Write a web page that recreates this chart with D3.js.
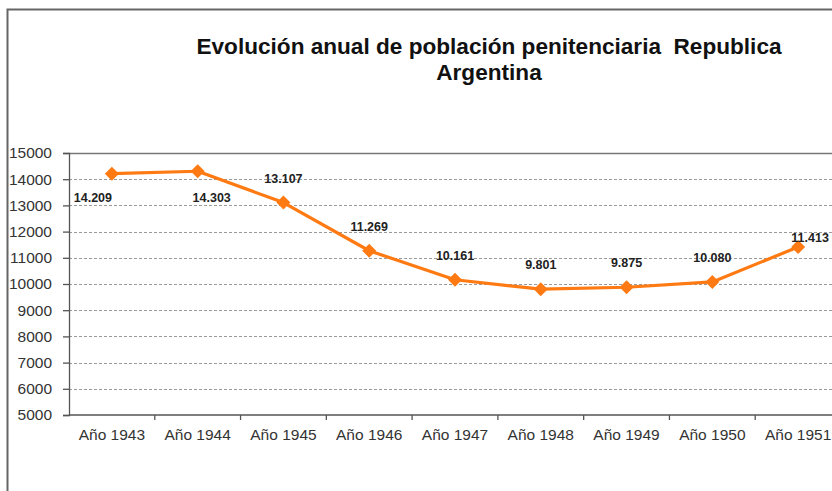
<!DOCTYPE html>
<meta charset="utf-8">
<script src="https://cdn.jsdelivr.net/npm/d3@7/dist/d3.min.js"></script>
<style>
body { margin: 0; background: #fff; }
text { font-family: Arial, "Liberation Sans", sans-serif; }
.grid line { stroke: #9a9a9a; stroke-width: 1px; stroke-dasharray: 3,2; }
.axis path, .axis line { stroke: #555; stroke-width: 1.3px; }
.axis text { fill: #333; font-size: 15.5px; }
.title { font-size: 22.6px; font-weight: bold; fill: #111; }
.lbl { font-size: 12.5px; font-weight: bold; fill: #222; }
</style>
<body>
<script>

// chart data
var years = ["Año 1943", "Año 1944", "Año 1945", "Año 1946", "Año 1947",
             "Año 1948", "Año 1949", "Año 1950", "Año 1951"];
var poblacion = [14209, 14303, 13107, 11269, 10161, 9801, 9875, 10080, 11413];
var valueLabels = ["14.209", "14.303", "13.107", "11.269", "10.161",
                   "9.801", "9.875", "10.080", "11.413"];
var yTicks = [5000, 6000, 7000, 8000, 9000, 10000, 11000, 12000, 13000, 14000, 15000];

// where excel put each data label, relative to its point
var labelNudge = [[-19, 28], [14, 31], [0, -20], [0, -20], [0, -20],
                  [0, -20], [0, -20], [0, -20], [12, -5]];

var width = 832,
    height = 491;

var svg = d3.select("body").append("svg")
    .attr("width", width)
    .attr("height", height);

// outer chart frame (left + top only, rest is cropped)
svg.append("path")
    .attr("d", "M7.5," + height + "V9.5H" + width)
    .attr("fill", "none")
    .attr("stroke", "#666")
    .attr("stroke-width", 2);

// title keeps the double space of the original
svg.append("text")
    .attr("class", "title")
    .attr("x", 489).attr("y", 54)
    .attr("text-anchor", "middle")
    .text("Evolución anual de población penitenciaria\u00a0 Republica");
svg.append("text")
    .attr("class", "title")
    .attr("x", 489).attr("y", 80)
    .attr("text-anchor", "middle")
    .text("Argentina");

var plotL = 69, plotR = 841, plotT = 153, plotB = 415;

var x = d3.scaleBand().domain(years).range([plotL, plotR]);
var y = d3.scaleLinear().domain([5000, 15000]).range([plotB, plotT]);

// gridlines
svg.append("g")
    .attr("class", "grid")
    .selectAll("line")
    .data(yTicks.slice(1, -1))
    .enter().append("line")
    .attr("x1", plotL).attr("x2", plotR)
    .attr("y1", function(d) { return Math.round(y(d)) + 0.5; })
    .attr("y2", function(d) { return Math.round(y(d)) + 0.5; });

// plot area top border
svg.append("line")
    .attr("x1", plotL).attr("x2", plotR)
    .attr("y1", plotT + 0.5).attr("y2", plotT + 0.5)
    .attr("stroke", "#777").attr("stroke-width", 1.5);

// y axis
svg.append("g")
    .attr("class", "axis")
    .attr("transform", "translate(" + plotL + ",0)")
    .call(d3.axisLeft(y).tickValues(yTicks).tickSize(6).tickPadding(11).tickFormat(d3.format("d")));

// x axis, ticks sit between categories
var xAxis = svg.append("g")
    .attr("class", "axis")
    .attr("transform", "translate(0," + plotB + ")")
    .call(d3.axisBottom(x).tickSize(0).tickPadding(14));
xAxis.selectAll(".tick line").remove();
xAxis.selectAll(".sep")
    .data(years.slice(1))
    .enter().append("line")
    .attr("x1", function(d) { return x(d); })
    .attr("x2", function(d) { return x(d); })
    .attr("y1", 0).attr("y2", 5);
xAxis.select(".domain").attr("d", "M" + plotL + ",0H" + plotR);

// series line
var cx = function(d, i) { return x(years[i]) + x.bandwidth() / 2; };

var line = d3.line()
    .x(cx)
    .y(function(d) { return y(d); });

svg.append("path")
    .datum(poblacion)
    .attr("d", line)
    .attr("fill", "none")
    .attr("stroke", "#ff7a12")
    .attr("stroke-width", 3.2)
    .attr("stroke-linejoin", "round");

svg.append("g")
    .selectAll("path")
    .data(poblacion)
    .enter().append("path")
    .attr("d", "M0,-7L7,0L0,7L-7,0Z")
    .attr("fill", "#ff7a12")
    .attr("transform", function(d, i) {
      return "translate(" + cx(d, i) + "," + y(d) + ")";
    });

// data labels
svg.append("g")
    .selectAll("text")
    .data(poblacion)
    .enter().append("text")
    .attr("class", "lbl")
    .attr("text-anchor", "middle")
    .attr("x", function(d, i) { return cx(d, i) + labelNudge[i][0]; })
    .attr("y", function(d, i) { return y(d) + labelNudge[i][1]; })
    .text(function(d, i) { return valueLabels[i]; });

</script>
</body>
